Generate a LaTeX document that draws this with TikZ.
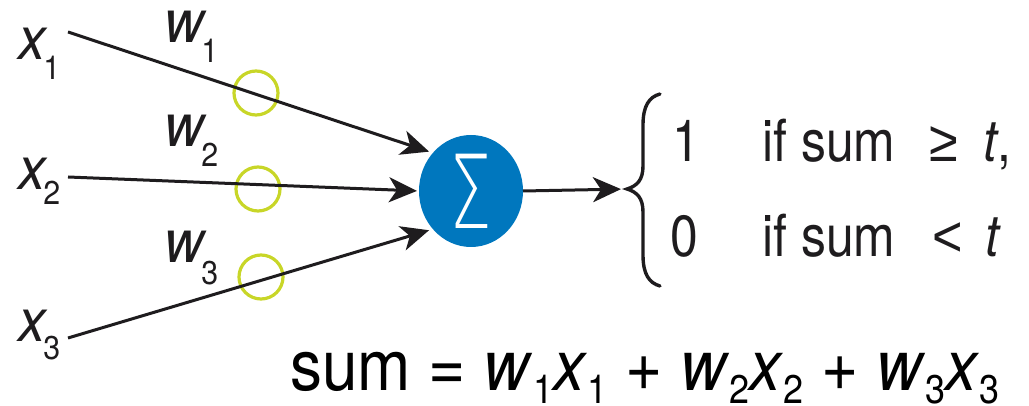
\documentclass[tikz,border=0pt]{standalone}
\usepackage{fontspec}
\setmainfont{TeX Gyre Heros}
\newfontfamily\lblfont{TeX Gyre Heros}[FakeStretch=0.92]
\newfontfamily\rfont{TeX Gyre Heros}[FakeStretch=0.86]
\newfontfamily\ffont{TeX Gyre Heros}[FakeStretch=0.9]
\newfontfamily\symfont{Liberation Sans}[FakeStretch=0.9]
\newfontfamily\sigfont{DejaVu Sans ExtraLight}
\usetikzlibrary{arrows.meta,shapes.geometric}
\definecolor{sumblue}{RGB}{0,119,190}
\definecolor{wring}{RGB}{200,214,40}
\definecolor{ink}{RGB}{30,28,30}
\newcommand{\bsub}[1]{\raisebox{-6.5pt}{\fontsize{20}{21}\selectfont #1}}
\tikzset{
  lbl/.style={anchor=base west,inner sep=0pt,text=ink,font=\lblfont\fontsize{30}{32}\selectfont\itshape},
  sublbl/.style={anchor=base west,inner sep=0pt,text=ink,font=\lblfont\fontsize{16.5}{18}\selectfont},
  rtxt/.style={anchor=base west,inner sep=0pt,text=ink,font=\rfont\fontsize{29}{32}\selectfont},
  ring/.style={circle,draw=wring,line width=1.6pt,minimum size=22pt,inner sep=0pt},
  wire/.style={draw=ink,line width=1.5pt,-{Stealth[length=14pt,width=12.5pt,inset=4pt]}},
  brace/.style={draw=ink,line width=1.7pt,line cap=round},
}
\begin{document}
\begin{tikzpicture}[x=0.5pt,y=-0.5pt]
\useasboundingbox (0,0) rectangle (1029,406);
% input labels
\node[lbl] (x1) at (18,60) {x};
\node[sublbl] (x1s) at (43,80) {1};
\node[lbl] (x2) at (18,190) {x};
\node[sublbl] (x2s) at (43,205) {2};
\node[lbl] (x3) at (18,342) {x};
\node[sublbl] (x3s) at (43,360) {3};
% weight labels
\node[lbl] (w1) at (164,43) {w};
\node[sublbl] (w1s) at (201,63) {1};
\node[lbl] (w2) at (164,147) {w};
\node[sublbl] (w2s) at (201,167) {2};
\node[lbl] (w3) at (164,263) {w};
\node[sublbl] (w3s) at (201,285) {3};
% weight rings
\node[ring] (r1) at (256,93) {};
\node[ring] (r2) at (258,189) {};
\node[ring] (r3) at (261,277) {};
% summation node
\node[ellipse,fill=sumblue,minimum width=52pt,minimum height=56pt,inner sep=0pt,outer sep=0pt,text=white] (sum) at (471,191)
  {\scalebox{0.66}[1]{\sigfont\fontsize{51}{52}\selectfont Σ}};
% wire start points
\coordinate (s1) at (68,32);
\coordinate (s2) at (68,177);
\coordinate (s3) at (68,338);
\coordinate (btip) at (627,189);
\draw[wire,shorten >=2pt] (s1) -- (sum.135);
\draw[wire,shorten >=1pt] (s2) -- (sum.west);
\draw[wire,shorten >=2pt] (s3) -- (sum.225);
\draw[wire,shorten >=3pt] (sum.east) -- (btip);
% brace
\draw[brace] (660,94) .. controls (649,97) and (643,106) .. (643,125) -- (643,166)
  .. controls (643,180) and (637,186) .. (btip)
  .. controls (637,192) and (643,198) .. (643,212) -- (643,255)
  .. controls (643,274) and (649,283) .. (660,286);
% cases
\node[rtxt] (one) at (672,162) {1};
\node[rtxt] (if1) at (762,162) {if sum};
\node[rtxt,font=\symfont\fontsize{29}{32}\selectfont] (ge) at (929,162) {≥};
\node[rtxt] (t1) at (983,162) {\textit{t},};
\node[rtxt] (zero) at (670,257) {0};
\node[rtxt] (if2) at (762,257) {if sum};
\node[rtxt,font=\symfont\fontsize{29}{32}\selectfont] (lt) at (932,257) {<};
\node[rtxt] (t2) at (985,257) {\textit{t}};
% formula
\node[anchor=base west,inner sep=0pt,text=black,font=\ffont\fontsize{35.5}{38}\selectfont] (formula) at (290,391)
  {sum = \textit{w}\bsub{1}\textit{x}\bsub{1} + \textit{w}\bsub{2}\textit{x}\bsub{2} + \textit{w}\bsub{3}\textit{x}\bsub{3}};
\end{tikzpicture}
\end{document}
